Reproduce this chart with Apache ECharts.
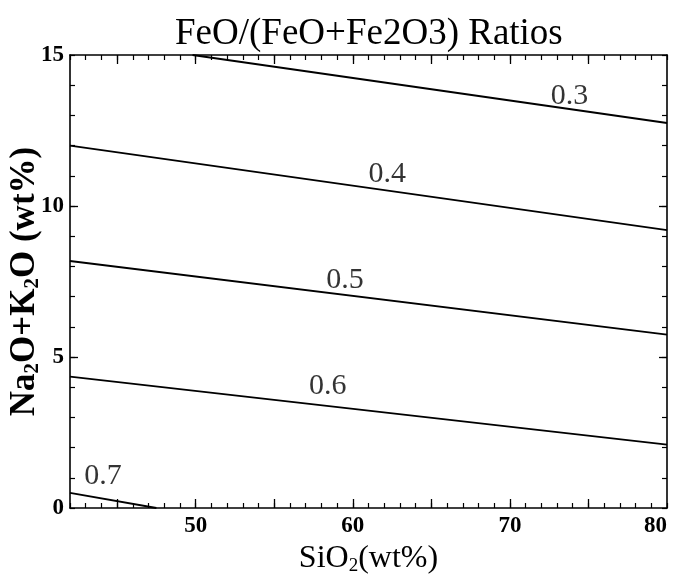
<!DOCTYPE html>
<html>
<head>
<meta charset="utf-8">
<script src="https://cdn.jsdelivr.net/npm/echarts@6/dist/echarts.min.js"></script>
<style>
  html, body { margin: 0; padding: 0; background: #fff; }
  #chart { width: 674px; height: 578px; }
</style>
</head>
<body>
<div id="chart"></div>
<script>
// ratio curves, [SiO2, Na2O+K2O] end points
const ratioNames = ['0.3', '0.4', '0.5', '0.6', '0.7']
const line03 = [[49.8, 15], [80, 12.75]]
const line04 = [[42, 12.0], [80, 9.2]]
const line05 = [[42, 8.18], [80, 5.74]]
const line06 = [[42, 4.35], [80, 2.1]]
const line07 = [[42, 0.5], [47.5, 0]]
const ratioLines = [line03, line04, line05, line06, line07]

// where each ratio label sits
const labelPos = [[73.8, 13.65], [62.2, 11.05], [59.5, 7.55], [58.4, 4.05], [44.1, 1.05]]

// axes
const xRange = [42, 80]
const yRange = [0, 15]
const xLabelTicks = [50, 60, 70, 80]
const xMajorTicks = [45, 50, 55, 60, 65, 70, 75]
const yLabelTicks = [0, 5, 10, 15]
const yMajorTicks = [5, 10]

const serif = '"Liberation Serif", "DejaVu Serif", serif'

const chart = echarts.init(document.getElementById('chart'))

function xAx(pos, withLabels, major) {
  return {
    type: 'value',
    position: pos,
    min: xRange[0],
    max: xRange[1],
    interval: 1,
    axisLine: { show: !major, onZero: false, lineStyle: { color: '#000', width: 1.6 } },
    axisTick: major
      ? { inside: true, length: 9, customValues: xMajorTicks, lineStyle: { color: '#000', width: 1.3 } }
      : { inside: true, length: 5, lineStyle: { color: '#000', width: 1.2 } },
    axisLabel: withLabels
      ? { customValues: xLabelTicks, color: '#000', fontSize: 23, fontWeight: 'bold', fontFamily: serif, margin: 7, alignMaxLabel: 'right' }
      : { show: false },
    splitLine: { show: false },
  }
}

function yAx(pos, withLabels, major) {
  return {
    type: 'value',
    position: pos,
    min: yRange[0],
    max: yRange[1],
    interval: 1,
    axisLine: { show: !major, onZero: false, lineStyle: { color: '#000', width: 1.6 } },
    axisTick: major
      ? { inside: true, length: 8, customValues: yMajorTicks, lineStyle: { color: '#000', width: 1.3 } }
      : { inside: true, length: 5, lineStyle: { color: '#000', width: 1.2 } },
    axisLabel: withLabels
      ? { customValues: yLabelTicks, color: '#000', fontSize: 23, fontWeight: 'bold', fontFamily: serif, margin: 6 }
      : { show: false },
    splitLine: { show: false },
  }
}

const xAxes = [xAx('bottom', true, false), xAx('bottom', false, true), xAx('top', false, false), xAx('top', false, true)]
xAxes[0].name = '{t|SiO}{s|2}{t|(wt%)}'
xAxes[0].nameLocation = 'middle'
xAxes[0].nameGap = 30
xAxes[0].nameTextStyle = {
  color: '#000',
  rich: {
    t: { fontSize: 32, fontFamily: serif, color: '#000' },
    s: { fontSize: 19, fontFamily: serif, color: '#000', padding: [14, 0, 0, 0] },
  },
}

const yAxes = [yAx('left', true, false), yAx('left', false, true), yAx('right', false, false), yAx('right', false, true)]
yAxes[0].name = '{t|Na}{s|2}{t|O+K}{s|2}{t|O (wt%)}'
yAxes[0].nameLocation = 'middle'
yAxes[0].nameMoveOverlap = false
yAxes[0].nameGap = 27
yAxes[0].nameTextStyle = {
  color: '#000',
  rich: {
    t: { fontSize: 35, fontWeight: 'bold', fontFamily: serif, color: '#000' },
    s: { fontSize: 21, fontWeight: 'bold', fontFamily: serif, color: '#000', padding: [15, 0, 0, 0] },
  },
}

const series = ratioLines.map((pts, i) => ({
  name: ratioNames[i],
  type: 'line',
  data: pts,
  symbol: 'none',
  lineStyle: { color: '#000', width: 1.9 },
  silent: true,
  z: 3,
}))

series.push({
  type: 'scatter',
  symbolSize: 0,
  data: labelPos.map((p, i) => ({ value: p, name: ratioNames[i] })),
  label: {
    show: true,
    position: 'inside',
    formatter: '{b}',
    color: '#000',
    fontSize: 30,
    fontFamily: serif,
  },
  silent: true,
  z: 4,
})

chart.setOption({
  backgroundColor: '#fff',
  animation: false,
  title: {
    text: 'FeO/(FeO+Fe2O3) Ratios',
    left: 170,
    top: 11,
    textStyle: { color: '#000', fontSize: 37, fontWeight: 'normal', fontFamily: serif },
  },
  grid: { left: 70, right: 7, top: 55, bottom: 70, containLabel: false, outerBoundsMode: 'none' },
  xAxis: xAxes,
  yAxis: yAxes,
  series: series,
})
</script>
</body>
</html>
